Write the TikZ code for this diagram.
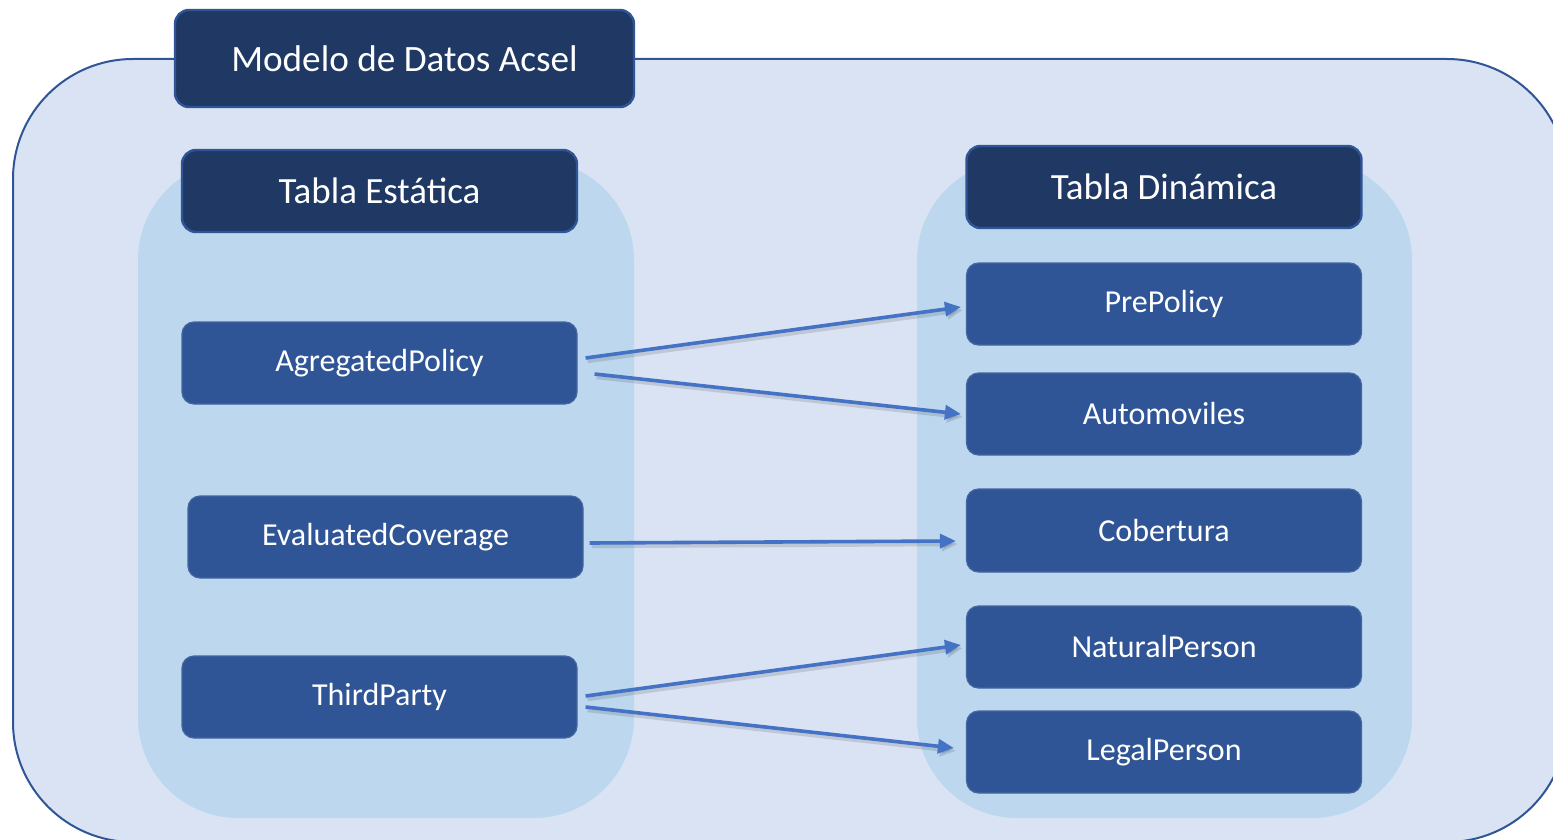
\documentclass[tikz,border=0pt]{standalone}
\usepackage{fontspec}
\setmainfont{Carlito}
\usetikzlibrary{arrows.meta,calc}
\definecolor{outerfill}{HTML}{DAE3F3}
\definecolor{outerline}{HTML}{2F5597}
\definecolor{colbg}{HTML}{BDD7EE}
\definecolor{navy}{HTML}{203864}
\definecolor{itemblue}{HTML}{2F5597}
\definecolor{arrowblue}{HTML}{4472C4}
\tikzset{
  hdrbox/.style={draw=outerline, line width=1.2pt, fill=navy, rounded corners=7pt,
    text=white, font=\fontsize{18.5}{22}\selectfont, minimum width=197.5pt, minimum height=41pt, inner sep=0pt},
  itembox/.style={draw=itemblue!90!white, line width=0.6pt, fill=itemblue, rounded corners=6pt,
    text=white, font=\fontsize{16}{19}\selectfont, minimum width=197.5pt, minimum height=41pt, inner sep=0pt},
  link/.style={draw=arrowblue, line width=1.8pt, -{Triangle[length=8pt,width=7pt]}},
  linkshadow/.style={draw=black, opacity=0.12, line width=2.2pt, -{Triangle[length=8pt,width=7pt]}}
}
\begin{document}
\begin{tikzpicture}[x=0.5pt,y=-0.5pt]
\useasboundingbox (0,0) rectangle (1553,840);
\clip (0,0) rectangle (1553,840);
% outer container
\draw[draw=outerline, line width=1pt, fill=outerfill, rounded corners=60pt] (13,59) rectangle (1567,842);
% column backgrounds
\fill[colbg, rounded corners=50pt] (138,160) rectangle (634,818);
\fill[colbg, rounded corners=50pt] (917,160) rectangle (1412,818);
% title
\node[hdrbox, minimum width=229.5pt, minimum height=48.5pt, font=\fontsize{18.6}{22}\selectfont] (title) at (404.5,58.5) {Modelo de Datos Acsel};
% headers
\node[hdrbox] (hdrL) at (379.5,191) {Tabla Estática};
\node[hdrbox] (hdrR) at (1164,187) {Tabla Dinámica};
% left items
\node[itembox] (agg) at (379.5,363) {AgregatedPolicy};
\node[itembox] (eval) at (385.5,537) {EvaluatedCoverage};
\node[itembox] (third) at (379.5,697) {ThirdParty};
% right items
\node[itembox] (pre) at (1164,304) {PrePolicy};
\node[itembox] (auto) at (1164,414) {Automoviles};
\node[itembox, minimum height=41.5pt] (cob) at (1164,530.5) {Cobertura};
\node[itembox] (nat) at (1164,647) {NaturalPerson};
\node[itembox] (legal) at (1164,752) {LegalPerson};
% arrows: shadows
\foreach \a/\oa/\b/\ob in {agg/{8,-5}/pre/{-5,3}, agg/{17,11}/auto/{-5,0}, eval/{6,6}/cob/{-10,10.5}, third/{8,-1}/nat/{-5,-2}, third/{8,10}/legal/{-12,-4}}{
  \draw[linkshadow] ($(\a.east)+(\oa)+(2,3)$) -- ($(\b.west)+(\ob)+(2,3)$);
}
\draw[link] ($(agg.east)+(8,-5)$) -- ($(pre.west)+(-5,3)$);
\draw[link] ($(agg.east)+(17,11)$) -- ($(auto.west)+(-5,0)$);
\draw[link] ($(eval.east)+(6,6)$) -- ($(cob.west)+(-10,10.5)$);
\draw[link] ($(third.east)+(8,-1)$) -- ($(nat.west)+(-5,-2)$);
\draw[link] ($(third.east)+(8,10)$) -- ($(legal.west)+(-12,-4)$);
\end{tikzpicture}
\end{document}
